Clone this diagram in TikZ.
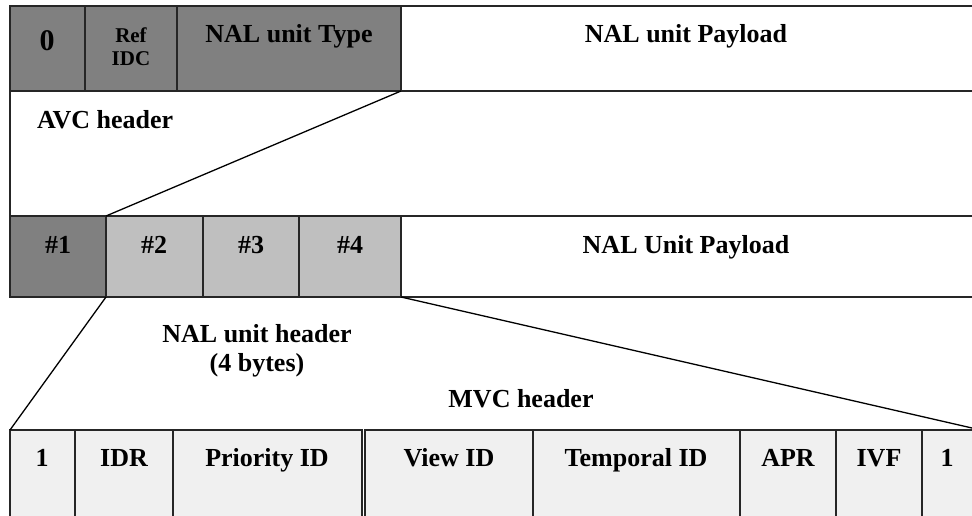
\documentclass[tikz,border=0pt]{standalone}
\usepackage{fontspec}
\setmainfont{Liberation Serif}
\usetikzlibrary{positioning}

\tikzset{
	field/.style={draw=black!85, line width=1.1pt, inner sep=0pt, outer sep=0pt, anchor=north west},
	darkfield/.style={field, fill=black!50},
	midfield/.style={field, fill=black!25},
	palefield/.style={field, fill=black!6},
	plainfield/.style={field, fill=white},
	lbl/.style={font=\fontsize{26}{30}\selectfont\bfseries, inner sep=0pt, anchor=base},
	smalllbl/.style={lbl, font=\fontsize{21}{23}\selectfont\bfseries},
	biglbl/.style={lbl, font=\fontsize{30}{32}\selectfont\bfseries},
	zoomline/.style={line width=1.3pt, black}
}

%field box: name, style, left, right, top, bottom (pixel units, y down)
\newcommand{\fieldbox}[6]{%
	\node[#2, minimum width={#4-#3}, minimum height={#6-#5}] (#1) at (#3,#5) {};%
}

\begin{document}
\begin{tikzpicture}[x=1pt, y=-1pt]

	%frame of the whole picture
	\useasboundingbox (0,0) rectangle (972,515);

	%AVC header row
	\fieldbox{fZero}{darkfield}{10}{85}{6}{91}
	\fieldbox{fRef}{darkfield}{85}{177}{6}{91}
	\fieldbox{fType}{darkfield}{177}{401}{6}{91}
	\fieldbox{fPay}{plainfield}{401}{975}{6}{91}
	\node[biglbl] (tZero) at (47,50) {0};
	\node[smalllbl] (tRef) at (131,42) {Ref};
	\node[smalllbl] (tIdc) at (131,65) {IDC};
	\node[lbl] (tType) at (289,42) {NAL unit Type};
	\node[lbl] (tPay) at (686,42) {NAL unit Payload};

	%space under the AVC header
	\draw[line width=1.1pt, black!85] (fZero.south west) -- (10,216);
	\node[lbl, anchor=base west] (tAvc) at (37,128) {AVC header};

	%NAL unit header row
	\fieldbox{hOne}{darkfield}{10}{106}{216}{297}
	\fieldbox{hTwo}{midfield}{106}{203}{216}{297}
	\fieldbox{hThree}{midfield}{203}{299}{216}{297}
	\fieldbox{hFour}{midfield}{299}{401}{216}{297}
	\fieldbox{hPay}{plainfield}{401}{975}{216}{297}
	\node[lbl] (tOne) at (58,253) {\#1};
	\node[lbl] (tTwo) at (154,253) {\#2};
	\node[lbl] (tThree) at (251,253) {\#3};
	\node[lbl] (tFour) at (350,253) {\#4};
	\node[lbl] (tHPay) at (686,253) {NAL Unit Payload};

	\node[lbl] (tNal) at (257,342) {NAL unit header};
	\node[lbl, below=11pt of tNal.base] (tBytes) {(4 bytes)};
	\node[lbl] (tMvc) at (521,407) {MVC header};

	%MVC header row
	\fieldbox{mOne}{palefield}{10}{75}{430}{520}
	\fieldbox{mIdr}{palefield}{75}{173}{430}{520}
	\fieldbox{mPrio}{palefield}{173}{362}{430}{520}
	\fieldbox{mView}{palefield}{365}{533}{430}{520}
	\fieldbox{mTemp}{palefield}{533}{740}{430}{520}
	\fieldbox{mApr}{palefield}{740}{836}{430}{520}
	\fieldbox{mIvf}{palefield}{836}{922}{430}{520}
	\fieldbox{mLast}{palefield}{922}{975}{430}{520}
	\node[lbl] (tmOne) at (42,466) {1};
	\node[lbl] (tmIdr) at (124,466) {IDR};
	\node[lbl] (tmPrio) at (267,466) {Priority ID};
	\node[lbl] (tmView) at (449,466) {View ID};
	\node[lbl] (tmTemp) at (636,466) {Temporal ID};
	\node[lbl] (tmApr) at (788,466) {APR};
	\node[lbl] (tmIvf) at (879,466) {IVF};
	\node[lbl] (tmLast) at (947,466) {1};

	%zoom lines between the rows
	\coordinate (rightEnd) at (972,428);
	\draw[zoomline] (fType.south east) -- (hOne.north east);
	\draw[zoomline] (hOne.south east) -- (mOne.north west);
	\draw[zoomline] (hFour.south east) -- (rightEnd);

\end{tikzpicture}
\end{document}
